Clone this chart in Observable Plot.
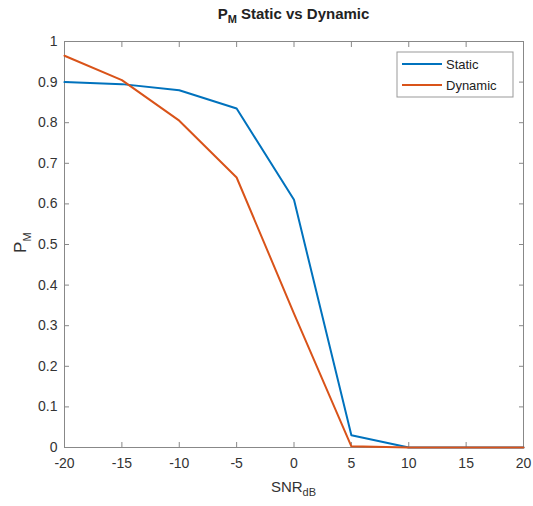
<!DOCTYPE html>
<html>
<head>
<meta charset="utf-8">
<script src="https://cdn.jsdelivr.net/npm/d3@7"></script>
<script src="https://cdn.jsdelivr.net/npm/@observablehq/plot@0.6"></script>
<style>
  body { margin: 0; background: #fff; font-family: "Liberation Sans", Arial, sans-serif; }
  #wrap { position: relative; width: 533px; height: 506px; }
  .title { position: absolute; top: 5px; left: 64px; width: 459px; text-align: center; font-weight: bold; font-size: 15px; color: #222; }
  .title sub, .ylab sub, .xlab sub { font-size: 11px; }
  .xlab { position: absolute; top: 478px; left: 64px; width: 459px; text-align: center; font-size: 15px; color: #333; }
  .ylab { position: absolute; left: 2px; top: 232px; transform: rotate(-90deg); transform-origin: center; font-size: 17px; color: #333; width: 40px; text-align: center; }
</style>
</head>
<body>
<div id="wrap">
  <div class="title">P<sub>M</sub> Static vs Dynamic</div>
  <div class="ylab">P<sub>M</sub></div>
  <div class="xlab">SNR<sub>dB</sub></div>
  <div id="chart"></div>
</div>
<script>
const snr = [-20, -15, -10, -5, 0, 5, 10, 15, 20];
const staticPM = [0.9, 0.895, 0.88, 0.835, 0.61, 0.03, 0, 0, 0];
const dynamicPM = [0.965, 0.905, 0.805, 0.665, 0.33, 0.003, 0, 0, 0];
const seriesNames = ["Static", "Dynamic"];
const seriesColors = ["#0072BD", "#D95319"];
const xTicks = [-20, -15, -10, -5, 0, 5, 10, 15, 20];
const yTicks = [0, 0.1, 0.2, 0.3, 0.4, 0.5, 0.6, 0.7, 0.8, 0.9, 1];

const data = [];
snr.forEach((x, i) => data.push({x, y: staticPM[i], s: "Static"}));
snr.forEach((x, i) => data.push({x, y: dynamicPM[i], s: "Dynamic"}));

const axisColor = "#888";
const chart = Plot.plot({
  width: 533,
  height: 506,
  marginLeft: 64,
  marginRight: 10,
  marginTop: 41,
  marginBottom: 59,
  style: {fontFamily: "'Liberation Sans', Arial, sans-serif", fontSize: "14px", color: "#333"},
  x: {domain: [-20, 20]},
  y: {domain: [0, 1]},
  color: {domain: seriesNames, range: seriesColors},
  marks: [
    Plot.frame({stroke: axisColor}),
    Plot.axisX({ticks: xTicks, tickSize: -5, tickPadding: 16, stroke: axisColor, fill: "#333", label: null, tickFormat: d => d}),
    Plot.axisX({anchor: "top", ticks: xTicks, tickSize: -5, stroke: axisColor, label: null, tickFormat: () => ""}),
    Plot.axisY({ticks: yTicks, tickSize: -5, tickPadding: 12, stroke: axisColor, fill: "#333", label: null, tickFormat: d => String(d)}),
    Plot.axisY({anchor: "right", ticks: yTicks, tickSize: -5, stroke: axisColor, label: null, tickFormat: () => ""}),
    Plot.line(data, {x: "x", y: "y", z: "s", stroke: "s", strokeWidth: 2})
  ]
});
document.getElementById("chart").appendChild(chart);

// Legend (inside the axes, top-right) placed via scales
const svg = d3.select(chart);
const xs = chart.scale("x"), ys = chart.scale("y");
const lw = 116, lh = 45;
const lx = xs.apply(20) - 10 - lw;
const ly = ys.apply(1) + 11;
const g = svg.append("g").attr("text-anchor", "start");
g.append("rect").attr("x", lx).attr("y", ly).attr("width", lw).attr("height", lh)
  .attr("fill", "#fff").attr("stroke", "#999");
seriesNames.forEach((n, i) => {
  const yy = ly + 12 + i * 21;
  g.append("line").attr("x1", lx + 5).attr("x2", lx + 45).attr("y1", yy).attr("y2", yy)
    .attr("stroke", seriesColors[i]).attr("stroke-width", 2);
  g.append("text").attr("x", lx + 49).attr("y", yy).attr("dy", "0.35em")
    .attr("text-anchor", "start").attr("font-size", 13).attr("fill", "#222").text(n);
});
</script>
</body>
</html>
